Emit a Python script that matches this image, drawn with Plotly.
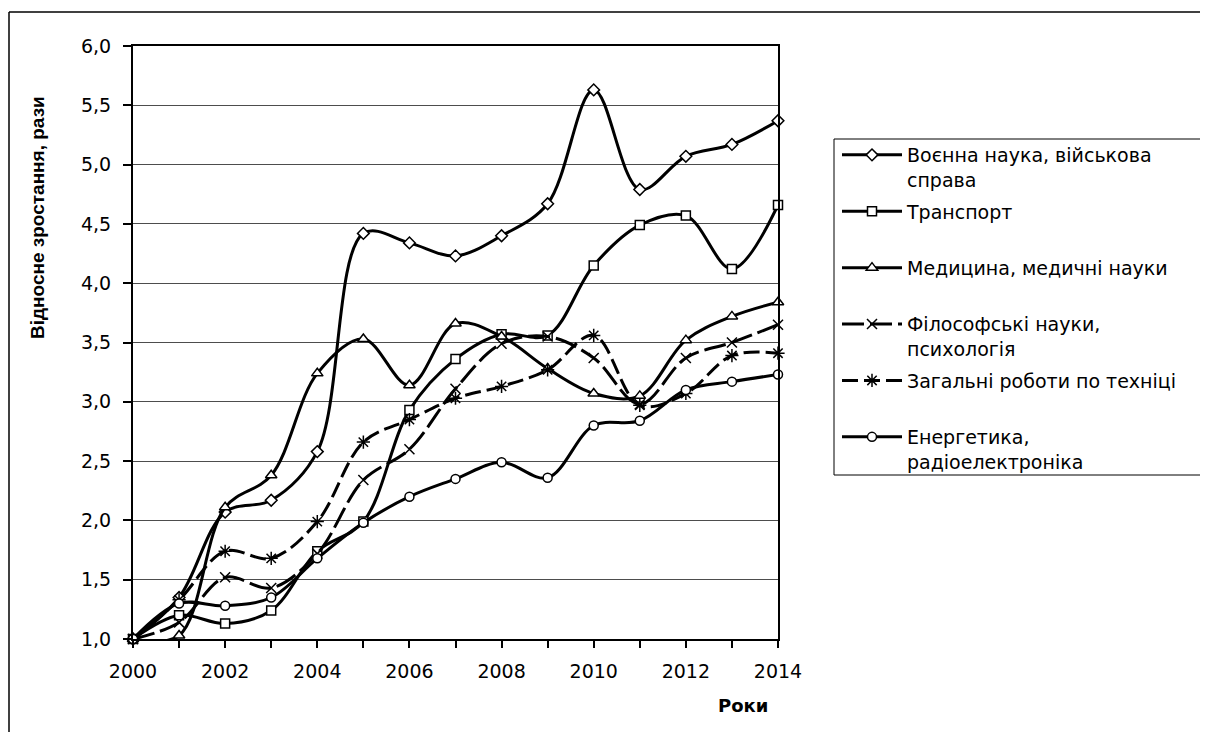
import plotly.graph_objects as go

# Data
years = list(range(2000, 2015))
tick_years = years[::2]

military = [1.00, 1.35, 2.07, 2.17, 2.58, 4.42, 4.34, 4.23, 4.40, 4.67, 5.63, 4.79, 5.07, 5.17, 5.37]
transport = [1.00, 1.20, 1.13, 1.24, 1.74, 1.99, 2.93, 3.36, 3.57, 3.56, 4.15, 4.49, 4.57, 4.12, 4.66]
medicine = [1.00, 1.03, 2.11, 2.38, 3.24, 3.53, 3.14, 3.66, 3.55, 3.28, 3.07, 3.05, 3.52, 3.72, 3.84]
philosophy = [1.00, 1.14, 1.52, 1.43, 1.72, 2.34, 2.60, 3.11, 3.49, 3.55, 3.37, 2.98, 3.37, 3.50, 3.65]
engineering = [1.00, 1.33, 1.74, 1.68, 1.99, 2.66, 2.85, 3.03, 3.13, 3.27, 3.56, 2.97, 3.07, 3.39, 3.41]
energy = [1.00, 1.30, 1.28, 1.35, 1.68, 1.98, 2.20, 2.35, 2.49, 2.36, 2.80, 2.84, 3.10, 3.17, 3.23]

names = [
    "Воєнна наука, військова<br>справа",
    "Транспорт",
    "Медицина, медичні науки",
    "Філософські науки,<br>психологія",
    "Загальні роботи по техніці",
    "Енергетика,<br>радіоелектроніка",
]

# page geometry: the page body has an 8px margin, so the figure is a bit
# smaller than the window and positions below are given in screen pixels
OFF = 8
W, H = 1200, 724
L, R, T, B = 125, 430, 38, 93
PW, PH = W - L - R, H - T - B


def px(sx):
    return (sx - OFF - L) / PW


def py(sy):
    return (H - B - (sy - OFF)) / PH


FONT = "DejaVu Sans"

styles = [
    dict(symbol="diamond", size=9, dash="solid"),
    dict(symbol="square", size=9, dash="solid"),
    dict(symbol="triangle-up", size=10, dash="solid"),
    dict(symbol="x-thin-open", size=10, dash="22px,6px"),
    dict(symbol="asterisk-open", size=11, dash="16px,6px"),
    dict(symbol="circle", size=9, dash="solid"),
]
values = [military, transport, medicine, philosophy, engineering, energy]

fig = go.Figure()
for i, (name, vals, st) in enumerate(zip(names, values, styles)):
    open_sym = st["symbol"].endswith("-open")
    # pad one-line names so every legend entry has the same height
    label = name if "<br>" in name else name + "<br>\u00a0"
    fig.add_trace(
        go.Scatter(
            x=years,
            y=vals,
            name=label,
            legendgroup=str(i),
            mode="lines+markers",
            line=dict(color="black", width=3, shape="spline", smoothing=1, dash=st["dash"]),
            marker=dict(
                symbol=st["symbol"],
                size=st["size"],
                color="black" if open_sym else "white",
                line=dict(color="black", width=1.5),
            ),
            cliponaxis=False,
        )
    )

fig.update_layout(
    width=W,
    height=H,
    margin=dict(l=L, r=R, t=T, b=B, autoexpand=False),
    paper_bgcolor="white",
    plot_bgcolor="white",
    separators=", ",
    font=dict(family=FONT, size=18, color="black"),
    showlegend=True,
    legend=dict(
        x=px(837),
        y=py(136),
        xanchor="left",
        yanchor="top",
        valign="top",
        itemwidth=60,
        traceorder="grouped",
        tracegroupgap=4,
        font=dict(family=FONT, size=19, color="black"),
        bgcolor="rgba(0,0,0,0)",
        borderwidth=0,
    ),
    xaxis=dict(
        range=[2000, 2014],
        tickvals=tick_years,
        ticktext=[str(y) for y in tick_years],
        ticks="outside",
        ticklen=7,
        tickwidth=1.5,
        tickcolor="black",
        ticklabelstandoff=7,
        minor=dict(tickvals=years, ticks="outside", ticklen=7, tickwidth=1.5, tickcolor="black", showgrid=False),
        showgrid=False,
        showline=True,
        linecolor="black",
        linewidth=2,
        mirror=True,
        zeroline=False,
        tickfont=dict(family=FONT, size=19),
    ),
    yaxis=dict(
        range=[1, 6],
        dtick=0.5,
        tickformat=".1f",
        ticks="outside",
        ticklen=8,
        tickwidth=1.5,
        tickcolor="black",
        ticklabelstandoff=8,
        showgrid=True,
        gridcolor="#4d4d4d",
        gridwidth=1,
        showline=True,
        linecolor="black",
        linewidth=2,
        mirror=True,
        zeroline=False,
        tickfont=dict(family=FONT, size=19),
    ),
    shapes=[
        # legend frame
        dict(type="rect", xref="paper", yref="paper",
             x0=px(834), x1=px(1220), y0=py(475), y1=py(139),
             line=dict(color="black", width=1)),
        # outer chart frame (left and top edges)
        dict(type="line", xref="paper", yref="paper",
             x0=px(9), x1=px(9), y0=py(12), y1=py(740),
             line=dict(color="black", width=1.5)),
        dict(type="line", xref="paper", yref="paper",
             x0=px(9), x1=px(1220), y0=py(12), y1=py(12),
             line=dict(color="black", width=1.5)),
    ],
    annotations=[
        dict(text="<b>Відносне зростання, рази</b>", textangle=-90,
             xref="paper", yref="paper", x=px(37), y=py(218),
             xanchor="center", yanchor="middle", showarrow=False,
             font=dict(family="Liberation Sans", size=19)),
        dict(text="<b>Роки</b>",
             xref="paper", yref="paper", x=px(743), y=py(705),
             xanchor="center", yanchor="middle", showarrow=False,
             font=dict(family=FONT, size=18)),
    ],
)

fig.write_html("out.html")
